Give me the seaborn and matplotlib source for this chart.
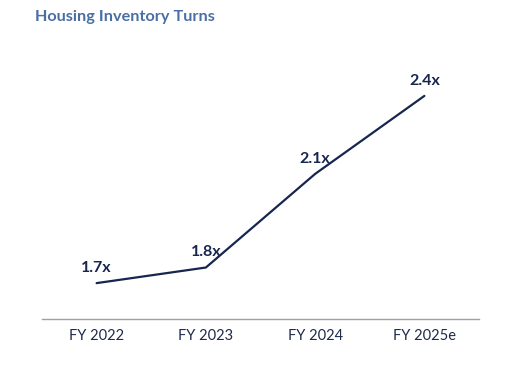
import matplotlib
matplotlib.use("Agg")
import matplotlib.pyplot as plt
import seaborn as sns
import pandas as pd

categories = ["FY 2022", "FY 2023", "FY 2024", "FY 2025e"]
turns = [1.70, 1.76, 2.12, 2.42]
title = "Housing Inventory Turns"

sns.set_theme(style="white")
plt.rcParams["font.family"] = ["Lato", "DejaVu Sans"]

df = pd.DataFrame({"year": categories, "turns": turns})

fig = plt.figure(figsize=(5.10, 3.71), dpi=100)
ax = fig.add_axes([42 / 510, 1 - 319 / 371, 437 / 510, 279 / 371])

navy = "#16264f"
sns.lineplot(data=df, x="year", y="turns", ax=ax, color=navy, linewidth=1.6,
             sort=False)

for i, v in enumerate(turns):
    ax.annotate(f"{v:.1f}x", (i, v), xytext=(0, 6), textcoords="offset points",
                ha="center", va="bottom", fontsize=11.5, fontweight="bold",
                color=navy)

ax.set_xlim(-0.5, 3.5)
ax.set_ylim(1.562, 2.635)
ax.set_xlabel("")
ax.set_ylabel("")
ax.set_yticks([])
ax.tick_params(axis="x", length=0, pad=7, labelsize=10.5, labelcolor="#1e2a4a")
for s in ["top", "right", "left"]:
    ax.spines[s].set_visible(False)
ax.spines["bottom"].set_color("#a0a0a0")
ax.spines["bottom"].set_linewidth(1.0)

fig.text(35 / 510, 1 - 17 / 371, title, fontsize=11.7, fontweight="bold",
         color="#4a6fa5", ha="left", va="center")

fig.savefig("out.png", dpi=100)
